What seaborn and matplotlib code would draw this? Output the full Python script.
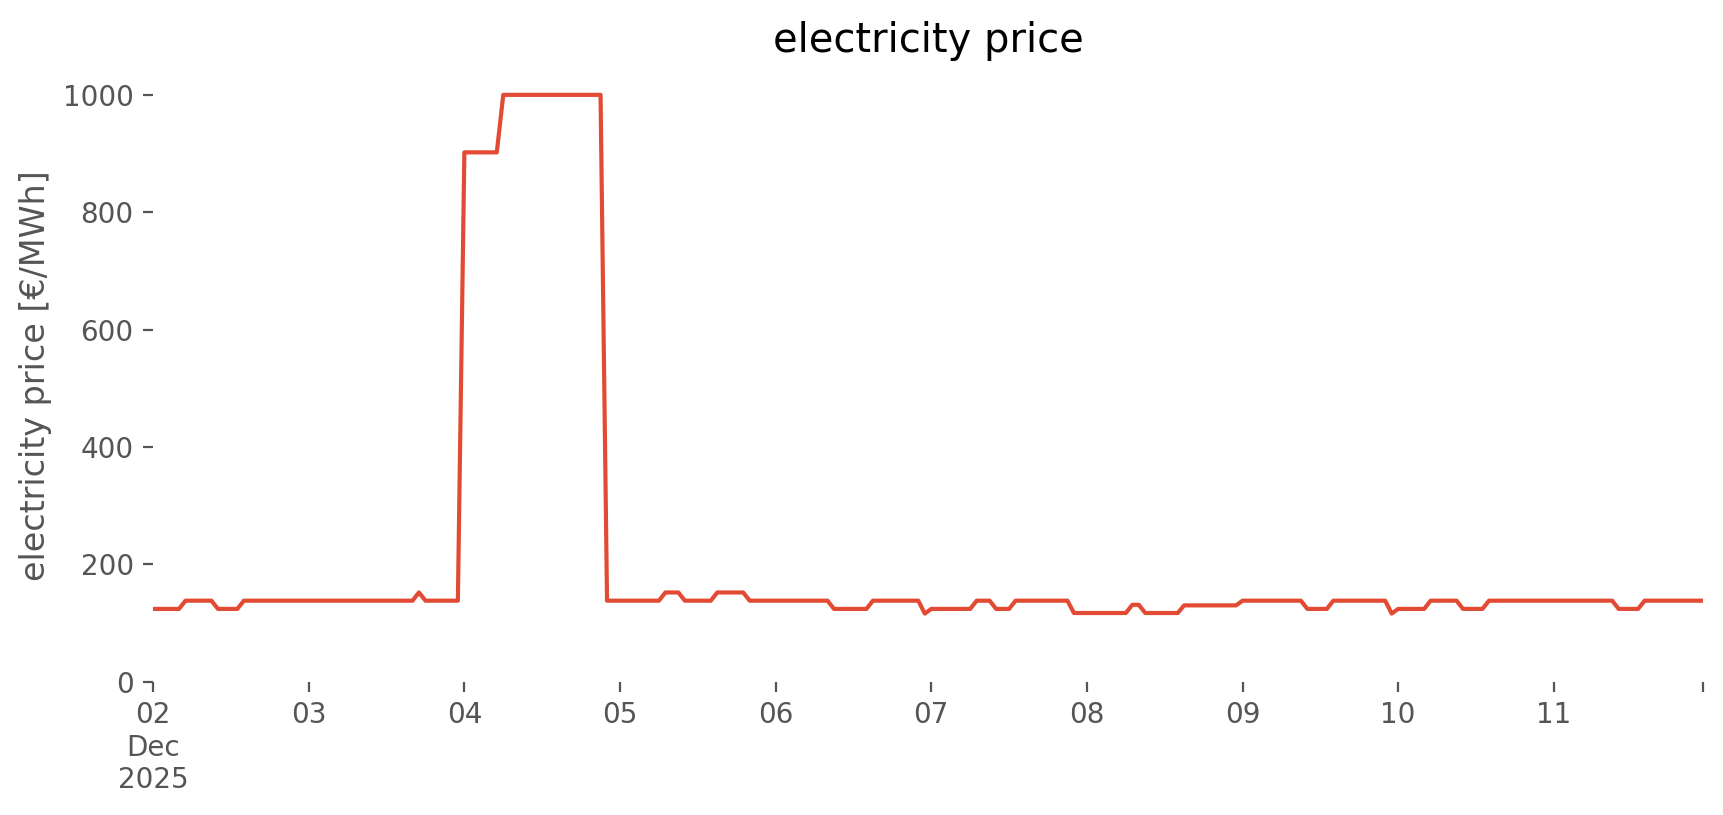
import numpy as np
import pandas as pd
import matplotlib
matplotlib.use("Agg")
import matplotlib.pyplot as plt
import matplotlib.dates as mdates
import seaborn as sns

''' Data read off the chart: hourly price, one row per day '''
start = "2025-12-02 00:00"
day_labels = ["02\nDec\n2025", "03", "04", "05", "06", "07", "08", "09", "10", "11"]

price = [
    124, 124, 124, 124, 124, 138, 138, 138, 138, 138, 124, 124, 124, 124, 138, 138, 138, 138, 138, 138, 138, 138, 138, 138,  # 02
    138, 138, 138, 138, 138, 138, 138, 138, 138, 138, 138, 138, 138, 138, 138, 138, 138, 152, 138, 138, 138, 138, 138, 138,  # 03
    902, 902, 902, 902, 902, 902, 1000, 1000, 1000, 1000, 1000, 1000, 1000, 1000, 1000, 1000, 1000, 1000, 1000, 1000, 1000, 1000, 138, 138,  # 04
    138, 138, 138, 138, 138, 138, 138, 152, 152, 152, 138, 138, 138, 138, 138, 152, 152, 152, 152, 152, 138, 138, 138, 138,  # 05
    138, 138, 138, 138, 138, 138, 138, 138, 138, 124, 124, 124, 124, 124, 124, 138, 138, 138, 138, 138, 138, 138, 138, 116,  # 06
    124, 124, 124, 124, 124, 124, 124, 138, 138, 138, 124, 124, 124, 138, 138, 138, 138, 138, 138, 138, 138, 138, 117, 117,  # 07
    117, 117, 117, 117, 117, 117, 117, 131, 131, 117, 117, 117, 117, 117, 117, 130, 130, 130, 130, 130, 130, 130, 130, 130,  # 08
    138, 138, 138, 138, 138, 138, 138, 138, 138, 138, 124, 124, 124, 124, 138, 138, 138, 138, 138, 138, 138, 138, 138, 116,  # 09
    124, 124, 124, 124, 124, 138, 138, 138, 138, 138, 124, 124, 124, 124, 138, 138, 138, 138, 138, 138, 138, 138, 138, 138,  # 10
    138, 138, 138, 138, 138, 138, 138, 138, 138, 138, 124, 124, 124, 124, 138, 138, 138, 138, 138, 138, 138, 138, 138, 138,  # 11
]

times = pd.date_range(start, periods=len(price), freq="h")
df = pd.DataFrame({"time": times, "price": price})

''' Plot '''
plt.style.use("ggplot")
plt.rcParams["font.family"] = ["DejaVu Sans"]

fig = plt.figure(figsize=(8.62, 4.075), dpi=200)
ax = fig.add_axes([0.0888, 0.1636, 0.899, 0.7517])
sns.lineplot(data=df, x="time", y="price", color="#E24A33", linewidth=1.5, ax=ax)

ax.set_facecolor("white")
ax.grid(False)
for s in ax.spines.values():
    s.set_visible(False)

ax.set_xlim(times[0], times[-1])
ax.set_ylim(0, 1044)
ax.set_yticks([0, 200, 400, 600, 800, 1000])

days = pd.date_range(start, periods=len(day_labels), freq="D")
ax.set_xticks(list(days) + [times[-1]])
ax.set_xticklabels(day_labels + [""])
ax.tick_params(axis="both", colors="#555555", labelcolor="#555555")

ax.set_title("electricity price")
ax.set_xlabel("")
ax.set_ylabel("electricity price [€/MWh]")

fig.savefig("out.png", dpi=200)
